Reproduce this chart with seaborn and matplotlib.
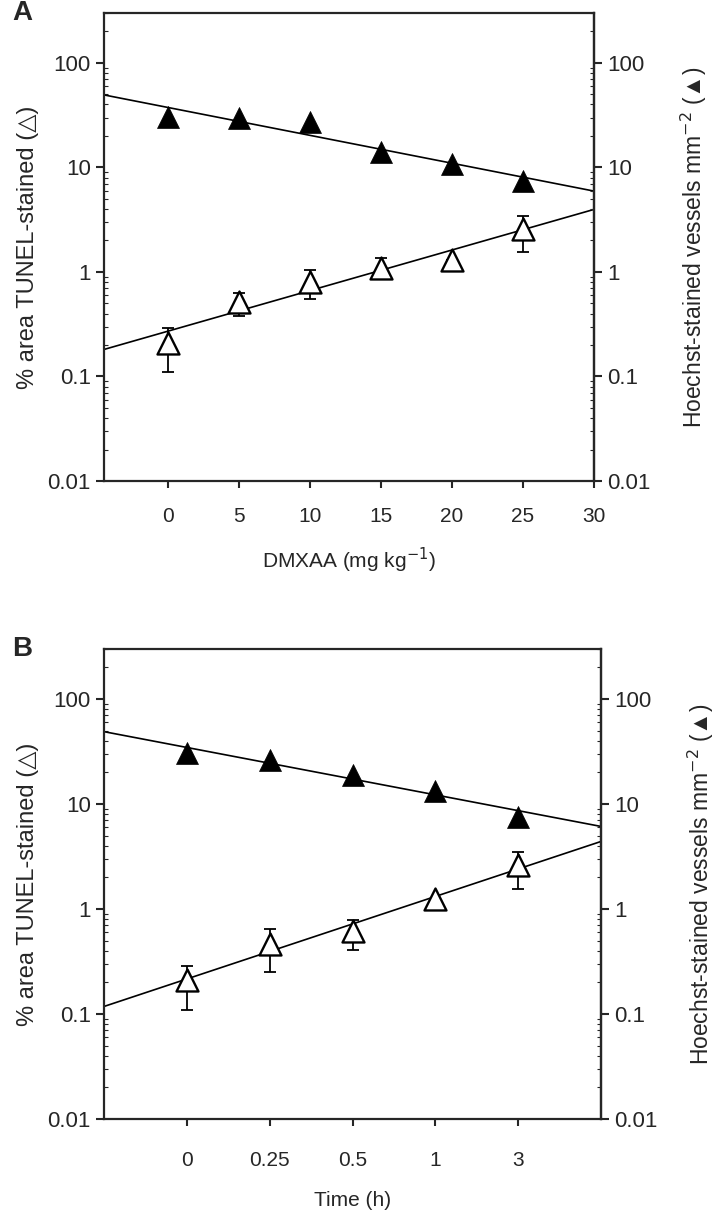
import numpy as np
import pandas as pd
import matplotlib
matplotlib.use("Agg")
import matplotlib.pyplot as plt
import seaborn as sns

# panel A: DMXAA dose
dose = [0, 5, 10, 15, 20, 25]
hoechst_a = [30.4, 29.6, 27.2, 14.1, 10.8, 7.4]
tunel_a = [0.21, 0.52, 0.80, 1.10, 1.30, 2.60]
tunel_a_lo = [0.11, 0.375, 0.55, 0.85, 1.30, 1.55]
tunel_a_hi = [0.29, 0.63, 1.05, 1.36, 1.30, 3.45]

# panel B: time after DMXAA
time_labels = ["0", "0.25", "0.5", "1", "3"]
hoechst_b = [30.5, 26.4, 19.1, 13.3, 7.6]
tunel_b = [0.21, 0.46, 0.62, 1.25, 2.6]
tunel_b_lo = [0.11, 0.25, 0.41, 1.25, 1.54]
tunel_b_hi = [0.285, 0.65, 0.79, 1.25, 3.5]

sns.set_theme(style="ticks")
plt.rcParams['font.family'] = ['Liberation Sans', 'DejaVu Sans']

fig = plt.figure(figsize=(7.17, 12.16), dpi=100)
axA = fig.add_axes([104/717, 1-481/1216, 490/717, 468/1216])
axB = fig.add_axes([104/717, 1-1119/1216, 497/717, 470/1216])


def fit_line(x, y, xlim):
    # log-linear regression through the points, drawn across the axis
    k, b = np.polyfit(x, np.log10(y), 1)
    xx = np.array(xlim)
    return pd.DataFrame({'x': xx, 'y': 10 ** (k * xx + b)})


def draw_panel(ax, x, filled, opened, lo, hi, xlim, letter):
    for yy in (filled, opened):
        d = fit_line(x, yy, xlim)
        sns.lineplot(data=d, x='x', y='y', ax=ax, color='black', lw=1.2, zorder=2)
    yerr = [np.array(opened) - np.array(lo), np.array(hi) - np.array(opened)]
    ax.errorbar(x, opened, yerr=yerr, fmt='none', ecolor='black', elinewidth=1.3,
                capsize=4, capthick=1.3, zorder=3)
    sns.scatterplot(x=x, y=filled, ax=ax, marker='^', s=250, color='black',
                    edgecolor='black', linewidth=0.5, zorder=4)
    sns.scatterplot(x=x, y=opened, ax=ax, marker='^', s=250, color='white',
                    edgecolor='black', linewidth=1.7, zorder=4)
    ax.set_yscale('log')
    ax.set_ylim(0.01, 300)
    ax.set_xlim(*xlim)
    yt = [0.01, 0.1, 1, 10, 100]
    ylab = ['0.01', '0.1', '1', '10', '100']
    ax.set_yticks(yt)
    ax.set_yticklabels(ylab, fontsize=16)
    ax.set_ylabel('% area TUNEL-stained (\u25b3)', fontsize=17, labelpad=6)
    ax.tick_params(axis='y', which='major', direction='out', length=6, width=1.5)
    ax.tick_params(axis='y', which='minor', direction='in', length=3, width=0.8)
    ax.tick_params(axis='x', which='major', direction='out', length=5, width=1.5,
                   labelsize=15, pad=14)
    ax.tick_params(axis='x', which='minor', length=0)
    for s in ax.spines.values():
        s.set_linewidth(1.6)
        s.set_visible(True)
    ax.text(12/717, ax.get_position().y1, letter, transform=fig.transFigure,
            fontsize=20, fontweight='bold', va='center', ha='left')

    rax = ax.twinx()
    rax.set_yscale('log')
    rax.set_ylim(0.01, 300)
    rax.set_yticks(yt)
    rax.set_yticklabels(ylab, fontsize=16)
    rax.tick_params(axis='y', which='major', direction='out', length=6, width=1.5)
    rax.tick_params(axis='y', which='minor', direction='in', length=3, width=0.8)
    rax.set_ylabel('Hoechst-stained vessels mm$^{-2}$ (\u25b2)', fontsize=16.5,
                   rotation=90, labelpad=20)
    rax.spines['right'].set_linewidth(1.6)
    return rax


draw_panel(axA, dose, hoechst_a, tunel_a, tunel_a_lo, tunel_a_hi, (-4.5, 30), 'A')
axA.set_xticks([0, 5, 10, 15, 20, 25, 30])
axA.set_xticklabels(['0', '5', '10', '15', '20', '25', '30'])
axA.set_xlabel('DMXAA (mg kg$^{-1}$)', fontsize=15, labelpad=14)

tpos = list(range(len(time_labels)))
draw_panel(axB, tpos, hoechst_b, tunel_b, tunel_b_lo, tunel_b_hi, (-1, 5), 'B')
axB.set_xticks(tpos)
axB.set_xticklabels(time_labels)
axB.tick_params(axis='x', pad=18)
axB.set_xlabel('Time (h)', fontsize=15, labelpad=15)

fig.savefig('out.png', dpi=100)
